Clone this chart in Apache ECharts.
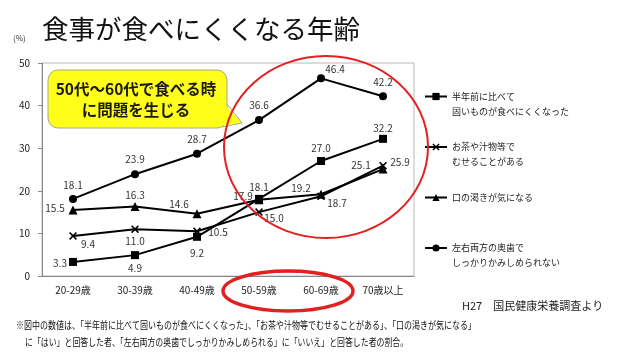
<!DOCTYPE html>
<html><head><meta charset="utf-8">
<script src="https://cdn.jsdelivr.net/npm/echarts@6/dist/echarts.min.js"></script>
<style>html,body{margin:0;padding:0;background:#fff}#c{width:640px;height:360px}</style>
</head><body><div id="c"></div>
<script>
var categories = ['20-29歳','30-39歳','40-49歳','50-59歳','60-69歳','70歳以上'];
var seriesNames = ['半年前に比べて\n固いものが食べにくくなった','お茶や汁物等で\nむせることがある','口の渇きが気になる','左右両方の奥歯で\nしっかりかみしめられない'];
var hardFood = [3.3, 4.9, 9.2, 18.1, 27.0, 32.2];
var choking = [9.4, 11.0, 10.5, 15.0, 18.7, 25.9];
var dryMouth = [15.5, 16.3, 14.6, 17.9, 19.2, 25.1];
var molars = [18.1, 23.9, 28.7, 36.6, 46.4, 42.2];
var yTicks = [0, 10, 20, 30, 40, 50];

// label offsets (style only)
var offHard = [[-13,1],[0,13],[0,16],[0,-12],[0,-13],[0,-11]];
var offChoke = [[15,8],[0,12],[21,1],[15,6],[16,7],[17,-3]];
var offDry = [[-18,-2],[0,-11],[-18,-10],[-16,-4],[-20,-6],[-22,-4]];
var offMol = [[0,-14],[0,-15],[0,-15],[0,-15],[14,-9],[0,-14]];

var FF = '"Noto Sans CJK JP", "Noto Sans", sans-serif';
function mk(vals, offs){
  return vals.map(function(v,i){
    return {value: v, label: {show: true, position: 'inside', offset: offs[i], formatter: function(p){return p.value.toFixed(1);}}};
  });
}
var xPath = 'path://M0,1.4L1.4,0L5,3.6L8.6,0L10,1.4L6.4,5L10,8.6L8.6,10L5,6.4L1.4,10L0,8.6L3.6,5Z';
var lbl = {color:'#333', fontSize: 10, fontFamily: FF};
function ser(name, data, sym, size){
  return {name: name, type: 'line', data: data, symbol: sym, symbolSize: size,
    lineStyle: {color:'#000', width: 2}, itemStyle: {color:'#000'},
    label: lbl, z: 3, animation: false};
}
function legendFmt(name){
  var parts = name.split('\n');
  return parts.length > 1 ? '\n' + parts[0] + '\n' + parts[1] : '\n' + parts[0] + '\n';
}
var chart = echarts.init(document.getElementById('c'));
chart.setOption({
  animation: false,
  textStyle: {fontFamily: FF},
  grid: {left: 42, right: 226, top: 63, bottom: 84, show: true, borderColor: '#b8b8b8', borderWidth: 1},
  xAxis: {type: 'category', data: categories, boundaryGap: true,
    axisLine: {lineStyle: {color:'#888'}}, axisTick: {show: false},
    axisLabel: {color:'#222', fontSize: 10, margin: 9, fontFamily: FF}},
  yAxis: {type: 'value', min: yTicks[0], max: yTicks[yTicks.length-1], interval: 10,
    axisLine: {show: true, lineStyle: {color:'#888'}}, axisTick: {show: true, length: 4, lineStyle:{color:'#888'}},
    splitLine: {show: false},
    axisLabel: {color:'#222', fontSize: 10, margin: 12, fontFamily: FF}},
  legend: {orient: 'vertical', left: 424, top: 74, padding: 0, itemWidth: 22, itemHeight: 9, itemGap: 5.5,
    data: seriesNames, formatter: legendFmt,
    textStyle: {fontSize: 9, lineHeight: 15, color: '#222', fontFamily: FF}},
  series: [
    ser(seriesNames[0], mk(hardFood, offHard), 'rect', 8),
    ser(seriesNames[1], mk(choking, offChoke), xPath, 8),
    ser(seriesNames[2], mk(dryMouth, offDry), 'triangle', 9),
    ser(seriesNames[3], mk(molars, offMol), 'circle', 8)
  ],
  graphic: [
    {type:'text', left: 42, top: 16, style:{text:'食事が食べにくくなる年齢', font:'26.5px '+FF, fill:'#111'}},
    {type:'text', x: 13, y: 38, style:{text:'(%)', font:'8px '+FF, fill:'#333', verticalAlign:'middle'}},
    {type:'rect', shape:{x:48, y:70, width:179, height:58, r:10}, style:{fill:'#FFFF1A', stroke:'#a8a880', lineWidth:1}, z: 10},
    {type:'polygon', shape:{points:[[224,104],[242,123],[220,126]]}, style:{fill:'#FFFF1A'}, z: 11},
    {type:'polyline', shape:{points:[[227,104],[242,123],[222,127]]}, style:{stroke:'#a8a880', lineWidth:1, fill:null}, z: 11},
    {type:'text', x: 136, y: 100, z: 12, style:{text:'50代～60代で食べる時\nに問題を生じる', font:'bold 15.5px '+FF, lineHeight: 21, fill:'#1a1a1a', align:'center', verticalAlign:'middle'}},
    {type:'ellipse', shape:{cx:326, cy:147, rx:102, ry:91}, style:{fill:null, stroke:'#E32020', lineWidth:2}, z: 20},
    {type:'ellipse', shape:{cx:288, cy:291, rx:65, ry:20}, style:{fill:null, stroke:'#E32020', lineWidth:3.5}, z: 20},
    {type:'text', x: 462, y: 306, style:{text:'H27　国民健康栄養調査より', font:'11px '+FF, fill:'#222', verticalAlign:'middle'}},
    {type:'text', x: 16, y: 325, scaleX: 0.8, style:{text:'※図中の数値は、「半年前に比べて固いものが食べにくくなった」、「お茶や汁物等でむせることがある」、「口の渇きが気になる」', font:'10px '+FF, fill:'#111', verticalAlign:'middle'}},
    {type:'text', x: 25, y: 342, scaleX: 0.79, style:{text:'に「はい」と回答した者、「左右両方の奥歯でしっかりかみしめられる」に「いいえ」と回答した者の割合。', font:'10px '+FF, fill:'#111', verticalAlign:'middle'}}
  ]
});
</script></body></html>
